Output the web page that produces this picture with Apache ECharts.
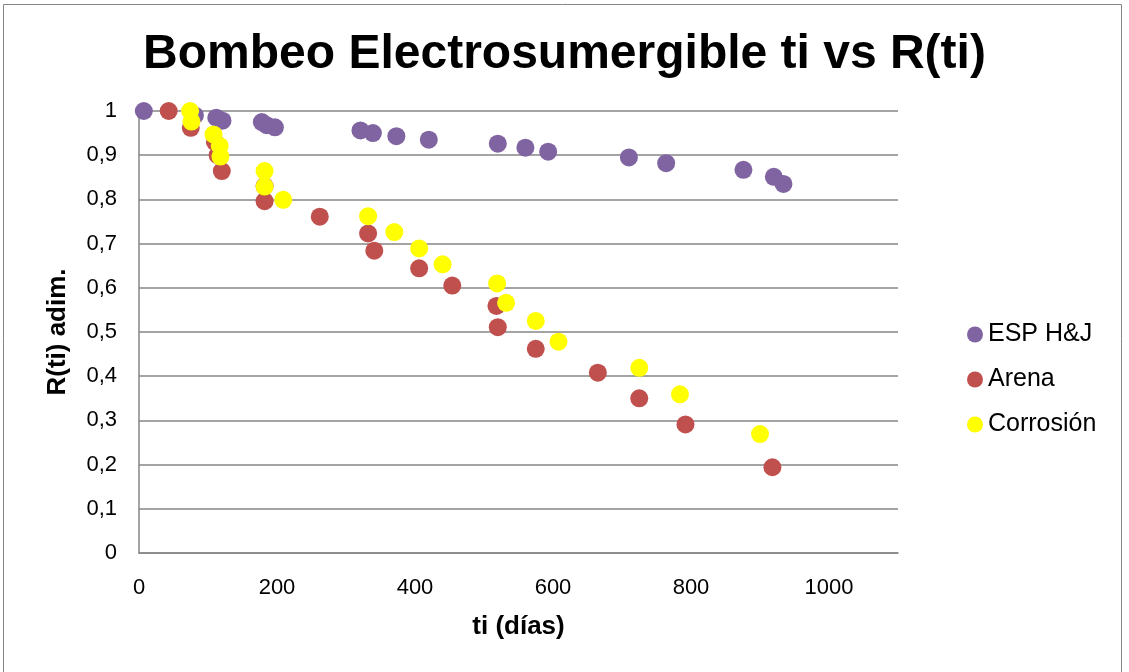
<!DOCTYPE html>
<html lang="es">
<head>
    <meta charset="UTF-8">
    <title>Bombeo Electrosumergible ti vs R(ti)</title>
    <script src="https://cdn.jsdelivr.net/npm/echarts@6/dist/echarts.min.js"></script>
    <style>
        html, body { margin: 0; padding: 0; background: #fff; }
        #main { width: 1129px; height: 672px; }
    </style>
</head>
<body>
<div id="main"></div>
<script type="text/javascript">
    // datos: [ti (dias), R(ti)]
    var espHJ = [
        [7, 1], [81, 0.99], [112, 0.985], [121, 0.978], [178, 0.975], [185, 0.968],
        [197, 0.963], [321, 0.956], [339, 0.95], [373, 0.943], [420, 0.935],
        [520, 0.926], [560, 0.917], [593, 0.908], [710, 0.895], [764, 0.882],
        [876, 0.867], [920, 0.851], [934, 0.835]
    ];
    var arena = [
        [43, 1], [75, 0.962], [110, 0.93], [114, 0.9], [120, 0.864], [182, 0.83],
        [182, 0.796], [262, 0.761], [332, 0.723], [341, 0.684], [406, 0.644],
        [454, 0.605], [518, 0.559], [520, 0.511], [575, 0.462], [665, 0.408],
        [725, 0.35], [792, 0.291], [918, 0.194]
    ];
    var corrosion = [
        [74, 1], [76, 0.976], [108, 0.947], [117, 0.921], [118, 0.897], [182, 0.864],
        [182, 0.829], [209, 0.799], [332, 0.762], [370, 0.726], [406, 0.689],
        [440, 0.653], [519, 0.61], [532, 0.566], [575, 0.525], [608, 0.478],
        [725, 0.419], [784, 0.359], [900, 0.269]
    ];
    var seriesNames = ['ESP H&J', 'Arena', 'Corrosión'];
    var seriesColors = ['#8064A2', '#C0504D', '#FFFF00'];

    var myChart = echarts.init(document.getElementById('main'));

    var option = {
        animation: false,
        textStyle: {fontFamily: 'Liberation Sans, Arial, sans-serif'},
        title: {
            text: 'Bombeo Electrosumergible ti vs R(ti)',
            left: 'center',
            top: 26,
            textStyle: {fontSize: 48, fontWeight: 'bold', color: '#000'}
        },
        // marco exterior
        graphic: [{
            type: 'rect',
            shape: {x: 3.5, y: 4.5, width: 1118, height: 700},
            style: {fill: 'none', stroke: '#868686', lineWidth: 1}
        }],
        legend: {
            orient: 'vertical',
            left: 962,
            top: 317,
            itemGap: 20,
            itemWidth: 16,
            itemHeight: 16,
            icon: 'circle',
            textStyle: {fontSize: 25, color: '#000'},
            data: seriesNames
        },
        grid: {left: 139, top: 111, right: 231, bottom: 119},
        xAxis: {
            type: 'value',
            min: 0,
            max: 1100,
            interval: 200,
            name: 'ti (días)',
            nameLocation: 'middle',
            nameGap: 61,
            nameTextStyle: {fontSize: 26, fontWeight: 'bold', color: '#000'},
            axisLine: {show: true, lineStyle: {color: '#868686', width: 1.5}},
            axisTick: {show: false},
            splitLine: {show: false},
            axisLabel: {
                fontSize: 22, color: '#000', margin: 24,
                formatter: function (v) { return v > 1000 ? '' : String(v); }
            }
        },
        yAxis: {
            type: 'value',
            min: 0,
            max: 1,
            interval: 0.1,
            name: 'R(ti) adim.',
            nameLocation: 'middle',
            nameGap: 68,
            nameTextStyle: {fontSize: 26, fontWeight: 'bold', color: '#000'},
            axisLine: {show: true, lineStyle: {color: '#868686', width: 1.5}},
            axisTick: {show: false},
            splitLine: {show: true, lineStyle: {color: '#868686', width: 1.5}},
            axisLabel: {
                fontSize: 22, color: '#000', margin: 22,
                formatter: function (v) { return String(Math.round(v * 10) / 10).replace('.', ','); }
            }
        },
        series: [
            {name: seriesNames[0], type: 'scatter', symbolSize: 18, data: espHJ, itemStyle: {color: seriesColors[0], opacity: 1}},
            {name: seriesNames[1], type: 'scatter', symbolSize: 18, data: arena, itemStyle: {color: seriesColors[1], opacity: 1}},
            {name: seriesNames[2], type: 'scatter', symbolSize: 18, data: corrosion, itemStyle: {color: seriesColors[2], opacity: 1}}
        ]
    };

    myChart.setOption(option);
</script>
</body>
</html>
